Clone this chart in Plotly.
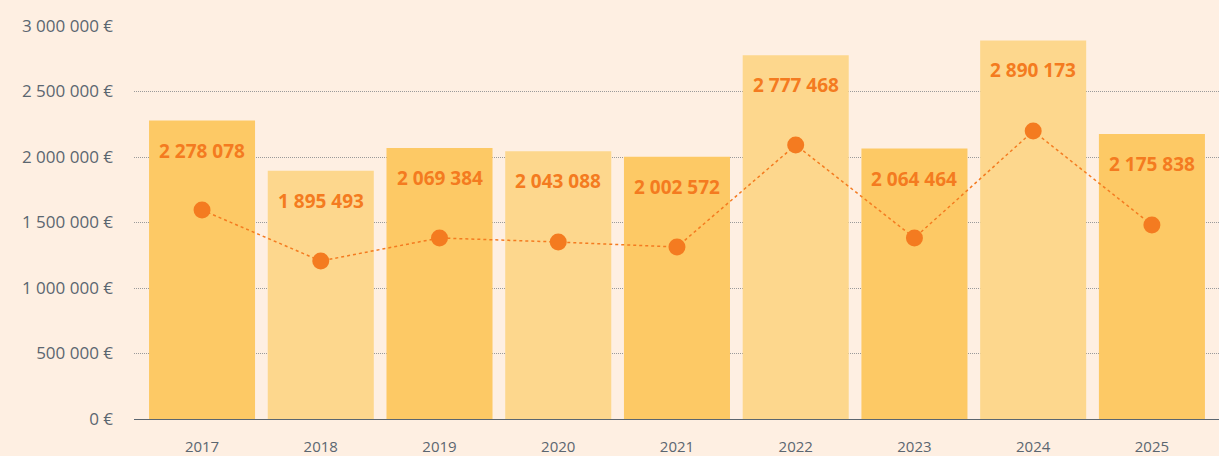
import plotly.graph_objects as go

years = ["2017", "2018", "2019", "2020", "2021", "2022", "2023", "2024", "2025"]
totals = [2278078, 1895493, 2069384, 2043088, 2002572, 2777468, 2064464, 2890173, 2175838]
secondary = [1595000, 1206000, 1382000, 1351000, 1313000, 2092000, 1382000, 2198000, 1481000]
y_ticks = [0, 500000, 1000000, 1500000, 2000000, 2500000, 3000000]

DARK_BAR = "#FDC965"
LIGHT_BAR = "#FDD78D"
ORANGE = "#F47B20"
GREY = "#5B6670"
BG = "#FEEFE2"


def fmt_space(v):
    return f"{v:,}".replace(",", " ")


bar_colors = [DARK_BAR if i % 2 == 0 else LIGHT_BAR for i in range(len(years))]

fig = go.Figure()
fig.add_trace(go.Bar(
    x=years, y=totals, marker=dict(color=bar_colors, line=dict(width=0)),
    hoverinfo="skip", showlegend=False,
))
fig.add_trace(go.Scatter(
    x=years, y=secondary, mode="lines+markers",
    line=dict(color=ORANGE, width=1.5, dash="dot"),
    marker=dict(color=ORANGE, size=17),
    showlegend=False,
))

# value labels near the top of each bar (category index positions)
for i, v in enumerate(totals):
    fig.add_annotation(
        x=i, y=v, xref="x", yref="y", text=fmt_space(v), showarrow=False, yshift=-30,
        font=dict(family="Open Sans", size=19, color=ORANGE, weight="bold"),
    )

fig.update_layout(
    width=1219, height=456,
    margin=dict(l=134, r=0, t=26, b=37),
    paper_bgcolor=BG, plot_bgcolor=BG,
    bargap=0.107,
    xaxis=dict(
        type="category", range=[-0.573, 8.565],
        showgrid=False, showline=True, linecolor=GREY, linewidth=1,
        tickfont=dict(family="Open Sans", size=15, color=GREY),
        ticks="", ticklabelstandoff=14, fixedrange=True,
    ),
    yaxis=dict(
        range=[0, 3000000], tickvals=y_ticks,
        ticktext=[fmt_space(t) + " €" for t in y_ticks],
        showgrid=True, gridcolor="#9A9A9A", gridwidth=1, griddash="1px,1px",
        zeroline=False, showline=False,
        tickfont=dict(family="Open Sans", size=17, color=GREY),
        ticks="", ticklabelstandoff=20, fixedrange=True,
    ),
)

fig.write_html("out.html")
